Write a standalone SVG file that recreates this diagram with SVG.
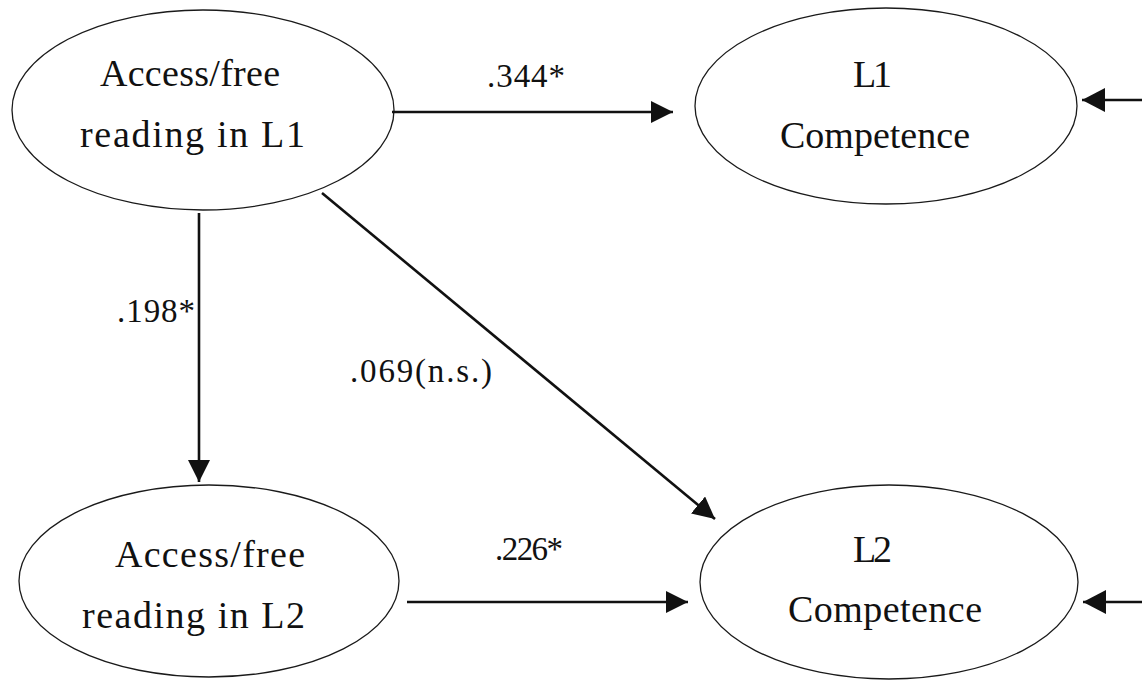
<svg xmlns="http://www.w3.org/2000/svg" width="1142" height="685" viewBox="0 0 1142 685">
<style>
.node ellipse{fill:#fff;stroke:#1a1a1a;stroke-width:1.3}
.t{font-family:"Liberation Serif","Times New Roman",serif;font-size:38px;fill:#111}
.lbl{font-family:"Liberation Serif","Times New Roman",serif;font-size:33px;fill:#111}
.conn path{fill:none;stroke:#111;stroke-width:2.6}
</style>
<defs>
<marker id="ah" markerUnits="userSpaceOnUse" markerWidth="24" markerHeight="24" refX="22" refY="11" orient="auto">
<path d="M0,0 L22,11 L0,22 Z" fill="#111"/>
</marker>
<marker id="ah2" markerUnits="userSpaceOnUse" markerWidth="26" markerHeight="26" refX="23" refY="12" orient="auto">
<path d="M0,0 L23,12 L0,24 Z" fill="#111"/>
</marker>
</defs>
<rect width="1142" height="685" fill="#fff"/>
<g id="n1" class="node">
<ellipse cx="203" cy="110" rx="191" ry="100"/>
<text class="t" x="100" y="86" textLength="180">Access/free</text>
<text class="t" x="80" y="147" textLength="225">reading in L1</text>
</g>
<g id="n2" class="node">
<ellipse cx="886" cy="106" rx="191" ry="98"/>
<text class="t" x="853" y="87" textLength="39">L1</text>
<text class="t" x="780" y="148" textLength="190">Competence</text>
</g>
<g id="n3" class="node">
<ellipse cx="209" cy="581" rx="190" ry="96"/>
<text class="t" x="115" y="567" textLength="190">Access/free</text>
<text class="t" x="82" y="628" textLength="223">reading in L2</text>
</g>
<g id="n4" class="node">
<ellipse cx="889" cy="582" rx="189" ry="97"/>
<text class="t" x="853" y="562" textLength="39">L2</text>
<text class="t" x="788" y="622" textLength="194">Competence</text>
</g>
<g id="connectors" class="conn">
<path d="M392 112 H673" marker-end="url(#ah)"/>
<path d="M407 602 H688" marker-end="url(#ah)"/>
<path d="M199 213 V482" marker-end="url(#ah)"/>
<path d="M322 193 L715 519" marker-end="url(#ah)"/>
<path d="M1142 100 H1082" marker-end="url(#ah2)"/>
<path d="M1142 602 H1083" marker-end="url(#ah2)"/>
</g>
<g id="labels">
<text class="lbl" x="487" y="87" textLength="78">.344*</text>
<text class="lbl" x="495" y="560" textLength="68">.226*</text>
<text class="lbl" x="117" y="322" textLength="78">.198*</text>
<text class="lbl" x="350" y="382" textLength="142">.069(n.s.)</text>
</g>
</svg>
